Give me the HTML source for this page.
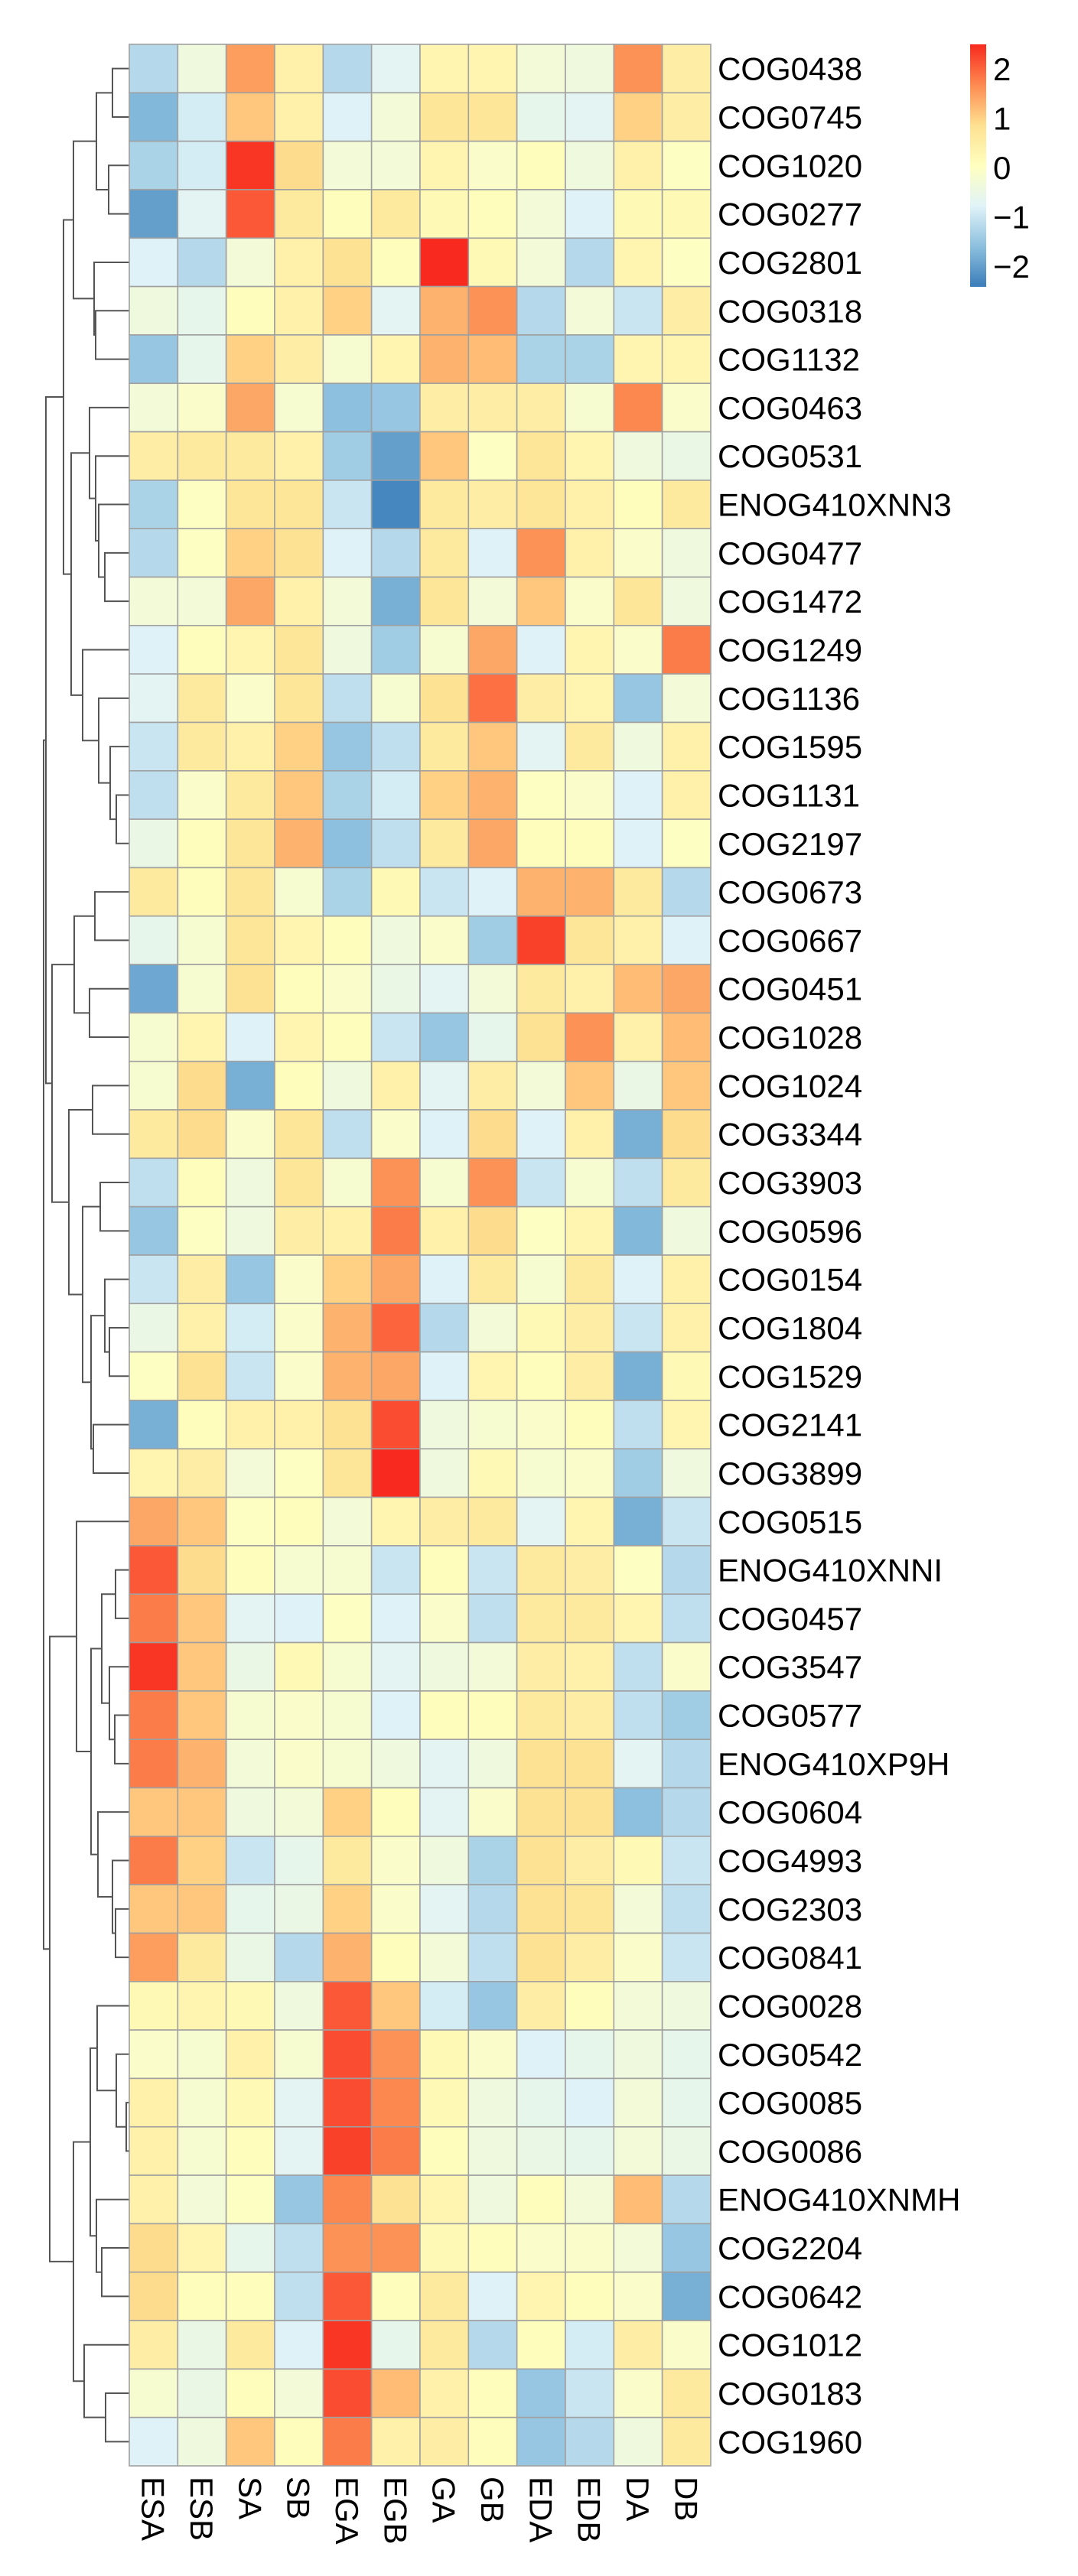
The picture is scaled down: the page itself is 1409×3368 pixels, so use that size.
<!DOCTYPE html>
<html><head><meta charset="utf-8">
<style>
html,body{margin:0;padding:0;background:#fff;}
svg{display:block;font-family:"Liberation Sans",Arial,sans-serif;}
</style></head>
<body>
<svg id="chart" width="1409" height="3368" viewBox="0 0 1409 3368" xmlns="http://www.w3.org/2000/svg">
<defs>
<linearGradient id="cbar" x1="0" y1="1" x2="0" y2="0">
<stop offset="0" stop-color="#3A7DBA"/>
<stop offset="0.1667" stop-color="#8CC0DE"/>
<stop offset="0.3333" stop-color="#E0F3F8"/>
<stop offset="0.5" stop-color="#FFFFBF"/>
<stop offset="0.6667" stop-color="#FEE090"/>
<stop offset="0.8333" stop-color="#FD8A50"/>
<stop offset="1" stop-color="#F8291E"/>
</linearGradient>
</defs>
<g id="dendro"></g>
<g id="cells"></g>
<g id="rowlabels"></g>
<g id="collabels"></g>
<g id="legend">
<rect x="1268" y="58" width="21" height="317" fill="url(#cbar)"/>
</g>
</svg>
<script>
const columns = ["ESA","ESB","SA","SB","EGA","EGB","GA","GB","EDA","EDB","DA","DB"];
const rows = ["COG0438","COG0745","COG1020","COG0277","COG2801","COG0318","COG1132","COG0463","COG0531","ENOG410XNN3",
"COG0477","COG1472","COG1249","COG1136","COG1595","COG1131","COG2197","COG0673","COG0667","COG0451",
"COG1028","COG1024","COG3344","COG3903","COG0596","COG0154","COG1804","COG1529","COG2141","COG3899",
"COG0515","ENOG410XNNI","COG0457","COG3547","COG0577","ENOG410XP9H","COG0604","COG4993","COG2303","COG0841",
"COG0028","COG0542","COG0085","COG0086","ENOG410XNMH","COG2204","COG0642","COG1012","COG0183","COG1960"];
const values = [
[-1.2,-0.4,1.5,0.4,-1.2,-0.7,0.3,0.3,-0.3,-0.4,1.6,0.5],
[-1.7,-0.9,1.1,0.4,-0.8,-0.3,0.7,0.7,-0.6,-0.7,1.0,0.5],
[-1.3,-0.9,2.4,0.9,-0.3,-0.3,0.3,-0.1,0.1,-0.4,0.4,0.0],
[-2.0,-0.7,2.1,0.6,0.1,0.6,0.2,0.1,-0.3,-0.8,0.2,0.2],
[-0.8,-1.2,-0.3,0.4,0.8,0.1,2.5,0.2,-0.3,-1.2,0.3,0.0],
[-0.4,-0.6,0.1,0.4,1.0,-0.7,1.3,1.6,-1.2,-0.3,-1.0,0.5],
[-1.5,-0.6,1.0,0.5,-0.2,0.3,1.3,1.2,-1.3,-1.3,0.3,0.3],
[-0.3,-0.1,1.4,-0.2,-1.6,-1.5,0.5,0.5,0.5,-0.2,1.7,-0.1],
[0.5,0.6,0.6,0.4,-1.4,-2.0,1.1,0.0,0.7,0.3,-0.4,-0.5],
[-1.3,0.0,0.7,0.7,-1.0,-2.3,0.6,0.5,0.7,0.4,0.1,0.6],
[-1.2,0.0,1.0,0.8,-0.8,-1.2,0.6,-0.8,1.6,0.4,-0.1,-0.4],
[-0.3,-0.3,1.4,0.4,-0.3,-1.8,0.7,-0.3,1.1,-0.1,0.7,-0.4],
[-0.8,0.1,0.3,0.7,-0.4,-1.4,-0.2,1.4,-0.8,0.3,-0.1,1.8],
[-0.7,0.6,-0.1,0.7,-1.1,-0.2,0.8,1.9,0.5,0.3,-1.5,-0.3],
[-1.0,0.6,0.4,1.0,-1.5,-1.1,0.6,1.1,-0.7,0.6,-0.4,0.4],
[-1.1,-0.1,0.6,1.1,-1.3,-0.9,1.0,1.3,0.0,-0.1,-0.8,0.4],
[-0.5,0.1,0.7,1.3,-1.6,-1.1,0.6,1.4,0.1,0.1,-0.8,0.0],
[0.6,0.1,0.7,-0.2,-1.3,0.2,-1.0,-0.8,1.3,1.3,0.6,-1.2],
[-0.6,-0.2,0.7,0.3,0.1,-0.4,-0.1,-1.4,2.3,0.7,0.4,-0.8],
[-1.9,-0.2,0.8,0.1,-0.1,-0.5,-0.7,-0.3,0.6,0.4,1.2,1.4],
[-0.2,0.3,-0.8,0.3,0.1,-1.0,-1.5,-0.6,0.8,1.6,0.4,1.2],
[-0.2,0.9,-1.8,0.1,-0.4,0.4,-0.7,0.5,-0.3,1.1,-0.5,1.1],
[0.6,0.9,-0.1,0.7,-1.1,-0.1,-0.8,0.9,-0.8,0.4,-1.8,0.9],
[-1.1,0.1,-0.4,0.7,-0.2,1.6,-0.2,1.6,-1.0,-0.2,-1.1,0.6],
[-1.5,0.0,-0.4,0.5,0.4,1.8,0.4,0.9,0.0,0.3,-1.7,-0.4],
[-1.0,0.5,-1.5,-0.1,1.0,1.4,-0.8,0.6,-0.2,0.6,-0.8,0.4],
[-0.5,0.4,-0.9,-0.1,1.3,2.0,-1.2,-0.3,0.2,0.5,-1.0,0.4],
[0.0,0.8,-1.0,-0.1,1.3,1.4,-0.8,0.3,0.1,0.5,-1.8,0.2],
[-1.8,0.1,0.4,0.4,0.8,2.2,-0.4,-0.2,-0.1,0.1,-1.1,0.3],
[0.3,0.5,-0.3,0.0,0.7,2.5,-0.4,0.2,-0.2,-0.1,-1.4,-0.4],
[1.4,1.1,0.0,0.1,-0.3,0.3,0.5,0.6,-0.7,0.3,-1.8,-1.0],
[2.1,0.9,0.1,-0.2,-0.2,-1.0,0.1,-1.0,0.6,0.5,0.0,-1.2],
[1.8,1.1,-0.7,-0.8,0.0,-0.8,-0.1,-1.1,0.6,0.6,0.3,-1.1],
[2.4,1.1,-0.5,0.2,-0.2,-0.7,-0.4,-0.3,0.5,0.4,-1.1,-0.1],
[1.8,1.1,-0.2,-0.1,-0.2,-0.8,0.1,0.1,0.6,0.5,-1.1,-1.4],
[1.8,1.3,-0.3,-0.1,-0.2,-0.4,-0.7,-0.4,0.8,0.8,-0.7,-1.2],
[1.1,1.1,-0.4,-0.3,1.0,0.1,-0.7,-0.1,0.8,0.8,-1.6,-1.2],
[1.8,1.0,-1.0,-0.6,0.6,-0.1,-0.4,-1.3,0.8,0.5,0.2,-1.0],
[1.1,1.1,-0.6,-0.5,1.0,-0.1,-0.7,-1.2,0.8,0.7,-0.3,-1.1],
[1.5,0.6,-0.5,-1.2,1.3,0.1,-0.3,-1.1,0.8,0.5,-0.1,-1.0],
[0.2,0.3,0.2,-0.4,2.1,1.1,-0.9,-1.5,0.5,0.1,-0.3,-0.4],
[-0.1,-0.2,0.4,-0.2,2.2,1.6,0.2,-0.1,-0.8,-0.6,-0.4,-0.6],
[0.4,-0.2,0.2,-0.7,2.2,1.7,0.2,-0.4,-0.6,-0.8,-0.3,-0.6],
[0.4,-0.2,0.1,-0.7,2.3,1.8,0.1,-0.4,-0.5,-0.6,-0.3,-0.5],
[0.4,-0.3,0.0,-1.5,1.7,0.8,0.3,-0.4,0.1,-0.3,1.2,-1.2],
[0.9,0.3,-0.6,-1.1,1.6,1.6,0.2,0.1,-0.1,-0.1,-0.3,-1.5],
[0.9,0.1,0.1,-1.1,2.1,0.1,0.6,-0.8,0.3,0.1,-0.1,-1.8],
[0.5,-0.5,0.6,-0.8,2.4,-0.6,0.6,-1.2,0.1,-0.9,0.5,-0.1],
[-0.2,-0.5,0.1,-0.3,2.2,1.2,0.4,0.1,-1.5,-1.0,-0.1,0.6],
[-0.8,-0.4,1.1,0.1,1.8,0.4,0.5,0.1,-1.5,-1.2,-0.4,0.6]
];
const legendTicks = [2,1,0,-1,-2];
const legendTickLabels = ["2","1","0","\u22121","\u22122"];
// dendrogram merge tree: [left, right, mergeHeight]; leaves are row indices
const tree = [
 [
  [
   [[[0,1,147],[2,3,142],126],[4,[5,6,125],123],96],
   [[7,[8,[9,[10,11,137],129],125],117],[12,[13,[14,[15,16,152],144],129],108],93],
   83],
  [[[17,18,124],[19,20,117],97],
   [[21,22,121],[[23,24,131],[[25,[26,27,143],137],[28,29,122],119],108],90],
   68],
  60],
 [
  [30,[[[31,32,151],[33,[34,35,150],143],133],[36,[37,[38,39,151],147],128],119],100],
  [[[40,[41,[42,43,165],152],127],[44,[45,46,133],126],118],[47,[48,49,138],110],96],
  65],
 57];

const NS = "http://www.w3.org/2000/svg";
const X0 = 169, Y0 = 58, CW = 63.33, CH = 63.32;
const xScale = i => X0 + i * CW;
const yScale = i => Y0 + i * CH;
const VMIN = -2.42, VMAX = 2.5;
const pal = [[58,125,186],[140,192,222],[224,243,248],[255,255,191],[254,224,144],[253,138,80],[248,41,30]];
function color(v){
  let t = (v - VMIN) / (VMAX - VMIN); t = Math.max(0, Math.min(1, t));
  const p = t * (pal.length - 1); const i = Math.min(pal.length - 2, Math.floor(p)); const f = p - i;
  const c = pal[i].map((a, k) => Math.round(a + (pal[i+1][k] - a) * f));
  return "rgb(" + c.join(",") + ")";
}
function mk(tag, attrs, parent){
  const e = document.createElementNS(NS, tag);
  for (const k in attrs) e.setAttribute(k, attrs[k]);
  parent.appendChild(e); return e;
}
const cells = document.getElementById("cells");
values.forEach((row, r) => {
  row.forEach((v, c) => {
    const el = mk("rect", {x: xScale(c), y: yScale(r), width: CW, height: CH, fill: color(v), stroke: "#a0a0a0", "stroke-width": 1.6}, cells);
    
    
  });
});
const rl = document.getElementById("rowlabels");
rows.forEach((name, r) => {
  const t = mk("text", {x: 938, y: yScale(r) + CH/2 + 15, "font-size": 42, fill: "#000"}, rl);
  t.textContent = name;
  
  
});
const cl = document.getElementById("collabels");
columns.forEach((name, c) => {
  const cx = xScale(c) + CW/2 - 15, cy = 3238;
  const t = mk("text", {x: cx, y: cy, "font-size": 42, fill: "#000", transform: "rotate(90 " + cx + " " + cy + ")"}, cl);
  t.textContent = name;
  
  
});
const lg = document.getElementById("legend");
const lScale = v => 219 - v * 64.5;
legendTicks.forEach((v, i) => {
  const t = mk("text", {x: 1298, y: lScale(v) + 15, "font-size": 42, fill: "#000"}, lg);
  t.textContent = legendTickLabels[i];
  
  
});
const dg = document.getElementById("dendro");
function draw(node){
  if (typeof node === "number") return {x: X0, y: yScale(node) + CH/2};
  const a = draw(node[0]), b = draw(node[1]), h = node[2];
  const p = mk("path", {d: "M" + a.x + " " + a.y + "H" + h + "V" + b.y + "H" + b.x, fill: "none", stroke: "#555", "stroke-width": 2}, dg);
  
  
  return {x: h, y: (a.y + b.y) / 2};
}
draw(tree);
</script>
</body></html>
